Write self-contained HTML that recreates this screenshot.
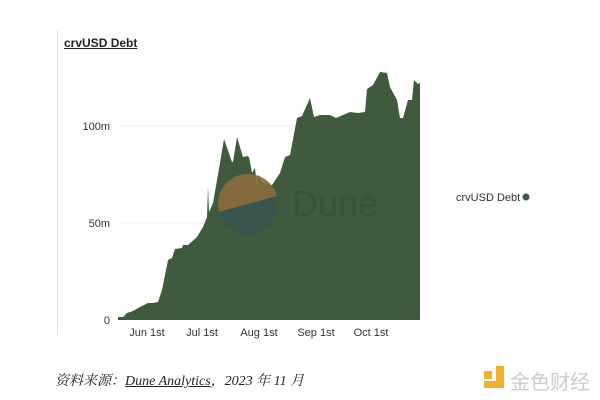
<!DOCTYPE html>
<html><head><meta charset="utf-8"><style>
body{margin:0;width:600px;height:400px;background:#fff;overflow:hidden;position:relative;font-family:"Liberation Sans",sans-serif}
.t{position:absolute}
</style></head><body>
<div class="t" style="left:57px;top:30px;width:1px;height:305px;background:#ecd6d6"></div>
<div class="t" style="left:64px;top:36px;font-size:12px;font-weight:bold;text-decoration:underline;color:#222">crvUSD Debt</div>
<svg class="t" style="left:0;top:0" width="600" height="400">
<line x1="118" y1="126" x2="420" y2="126" stroke="#f0f0f0"/>
<line x1="118" y1="223" x2="420" y2="223" stroke="#f0f0f0"/>
<g font-size="11" fill="#333" font-family="Liberation Sans,sans-serif">
<text x="110" y="130" text-anchor="end">100m</text>
<text x="110" y="227" text-anchor="end">50m</text>
<text x="110" y="324" text-anchor="end">0</text>
<text x="147" y="336" text-anchor="middle">Jun 1st</text>
<text x="202" y="336" text-anchor="middle">Jul 1st</text>
<text x="259" y="336" text-anchor="middle">Aug 1st</text>
<text x="316" y="336" text-anchor="middle">Sep 1st</text>
<text x="371" y="336" text-anchor="middle">Oct 1st</text>
</g>
<polygon fill="#3f5a3c" points="118,320 118,317 123,317 127,313 133,311 140,307 148,303 153,303 158,302 162,290 165,275 168,260 172,258 175,249 182,248 183,245 188,245 197,237 203,227 207,217 208,187 209,212 213,203 220,163 224,139 232,162 233,162 237,137 243,157 247,156 249,157 252,173 255,168 257,187 258,175 263,183 272,185 280,173 285,157 290,155 297,118 302,116 310,98 314,117 320,115 330,115 336,118 350,112 358,113 365,112 367,89 373,85 380,72 387,73 390,87 397,100 400,118 403,118 408,100 412,100 414,80 418,84 420,83 420,320"/>
<path d="M219,212 A29,29 0 1 1 277,196 Z" fill="#8a6b3e" opacity="0.9"/>
<path d="M219,212 L277,196 A29,29 0 0 1 219,212 Z" fill="#3a5450" opacity="0.9"/>
<text x="292" y="216" font-size="36" fill="#3a5238" font-family="Liberation Sans,sans-serif">Dune</text>
<circle cx="526" cy="197" r="3.5" fill="#3f5a3c"/>
<text x="456" y="201" font-size="11" fill="#333" font-family="Liberation Sans,sans-serif">crvUSD Debt</text>
</svg>
<div class="t" style="left:55px;top:370px;font-size:14px;font-style:italic;color:#222;font-family:'Liberation Serif','Noto Serif CJK SC',serif">资料来源：<u>Dune Analytics</u>，2023 年 11 月</div>
<div class="t" style="left:484px;top:371px;width:8px;height:8px;background:#f0b030"></div>
<div class="t" style="left:484px;top:381px;width:20px;height:7px;background:#f0b030"></div>
<div class="t" style="left:496px;top:366px;width:8px;height:20px;background:#f0b030"></div>
<div class="t" style="left:510px;top:366px;font-size:20px;color:#ccc;font-family:'Noto Sans CJK SC',sans-serif">金色财经</div>
</body></html>
